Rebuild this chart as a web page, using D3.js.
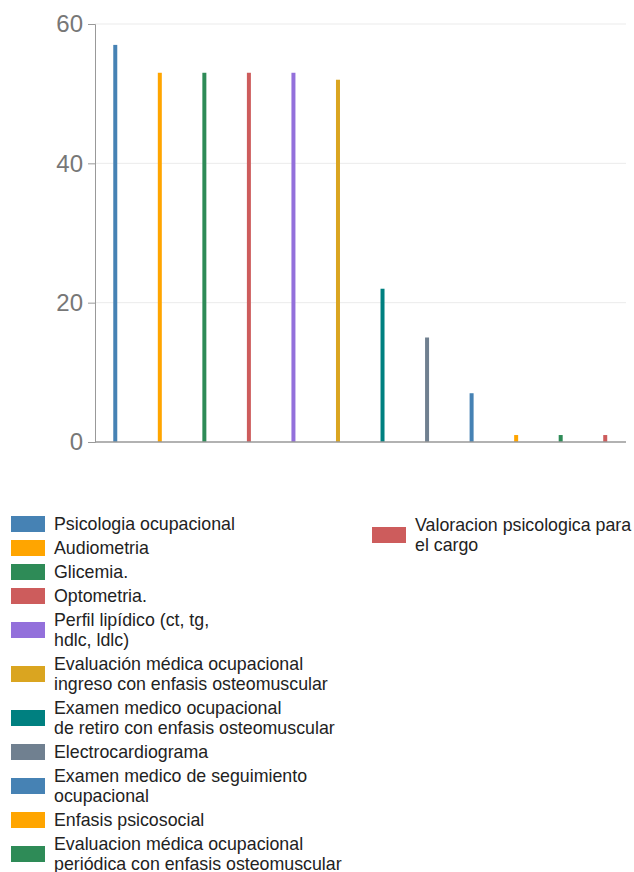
<!DOCTYPE html>
<html><head><meta charset="utf-8">
<script src="https://cdn.jsdelivr.net/npm/d3@7"></script>
<style>
html,body{margin:0;padding:0;background:#fff;}
svg{display:block;font-family:"Liberation Sans",Arial,sans-serif;}
</style></head>
<body>
<svg id="chart" width="634" height="872"></svg>
<script>
const categories = [
  "Psicologia ocupacional",
  "Audiometria",
  "Glicemia.",
  "Optometria.",
  "Perfil lipídico (ct, tg,\nhdlc, ldlc)",
  "Evaluación médica ocupacional\ningreso con enfasis osteomuscular",
  "Examen medico ocupacional\nde retiro con enfasis osteomuscular",
  "Electrocardiograma",
  "Examen medico de seguimiento\nocupacional",
  "Enfasis psicosocial",
  "Evaluacion médica ocupacional\nperiódica con enfasis osteomuscular",
  "Valoracion psicologica para\nel cargo"
];
const values = [57, 53, 53, 53, 53, 52, 22, 15, 7, 1, 1, 1];
const colors = ["#4682b4","#ffa500","#2e8b57","#cd5c5c","#9370db","#daa520","#008080","#708090","#4682b4","#ffa500","#2e8b57","#cd5c5c"];
const yTicks = [0, 20, 40, 60];

const svg = d3.select("#chart");
const plot = {left: 95, right: 626, top: 24, bottom: 442};

const x = d3.scaleBand().domain(categories).range([93, 627.5]);
const y = d3.scaleLinear().domain([0, 60]).range([plot.bottom, plot.top]);

// grid
svg.append("g").selectAll("line").data(yTicks.filter(d => d > 0)).join("line")
  .attr("x1", plot.left).attr("x2", plot.right)
  .attr("y1", d => y(d)).attr("y2", d => y(d))
  .attr("stroke", "#ebebeb").attr("stroke-width", 1);

// y axis
const yAxis = svg.append("g").attr("transform", `translate(${plot.left},0)`)
  .call(d3.axisLeft(y).tickValues(yTicks).tickSize(7).tickPadding(5));
yAxis.select(".domain").attr("stroke", "#999");
yAxis.selectAll(".tick line").attr("stroke", "#999");
yAxis.selectAll(".tick text").attr("fill", "#777").attr("font-size", "24px")
  .attr("font-family", "Liberation Sans, Arial, sans-serif");

// bars
svg.append("g").selectAll("rect").data(values).join("rect")
  .attr("x", (d, i) => x(categories[i]) + x.bandwidth() / 2 - 2)
  .attr("width", 4)
  .attr("y", d => y(d))
  .attr("height", d => y(0) - y(d))
  .attr("fill", (d, i) => colors[i]);

// x axis baseline
svg.append("line").attr("x1", plot.left).attr("x2", plot.right)
  .attr("y1", y(0)).attr("y2", y(0)).attr("stroke", "#999").attr("stroke-width", 1.3);

// legend
const lineH = 20, gap = 4;
function drawLegend(items, x0, y0) {
  let yy = y0;
  items.forEach(i => {
    const lines = categories[i].split("\n");
    const h = lines.length * lineH;
    const g = svg.append("g");
    g.append("rect").attr("x", x0).attr("y", yy + h / 2 - 8).attr("width", 34).attr("height", 16)
      .attr("fill", colors[i]);
    const t = g.append("text").attr("x", x0 + 43).attr("y", yy).attr("font-size", "17.8px").attr("fill", "#222");
    lines.forEach((l, k) => {
      t.append("tspan").attr("x", x0 + 43).attr("y", yy + k * lineH + lineH / 2).attr("dy", "0.35em").text(l);
    });
    yy += h + gap;
  });
}
drawLegend(d3.range(0, 11), 11, 514);
drawLegend([11], 372, 515);
</script>
</body></html>
